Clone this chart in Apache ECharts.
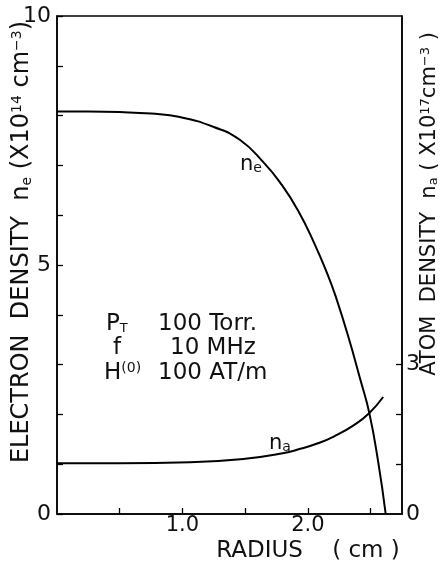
<!DOCTYPE html>
<html>
<head>
<meta charset="utf-8">
<script src="https://cdn.jsdelivr.net/npm/echarts@6/dist/echarts.min.js"></script>
<style>
html,body{margin:0;padding:0;background:#fff;}
#chart{width:445px;height:565px;}
</style>
</head>
<body>
<div id="chart"></div>
<script>
// Data
const radiusNe = [0, 0.25, 0.5, 0.75, 0.98, 1.25, 1.46, 1.65, 1.78, 1.92, 2.05, 2.16, 2.22, 2.32, 2.42, 2.49, 2.56, 2.62];
const electronDensity = [8.08, 8.08, 8.07, 8.04, 7.97, 7.77, 7.51, 7.05, 6.65, 6.10, 5.44, 4.79, 4.38, 3.58, 2.68, 2.02, 1.05, 0];
const radiusNa = [0, 0.5, 1.06, 1.5, 1.8, 1.94, 2.08, 2.21, 2.37, 2.49, 2.6];
const atomDensity = [1.02, 1.02, 1.04, 1.11, 1.22, 1.31, 1.42, 1.56, 1.79, 2.03, 2.35];
const xTickValues = [0.5, 1.0, 1.5, 2.0, 2.5];
const xLabelValues = [1.0, 2.0];
const leftLabelValues = [0, 5, 10];
const rightTickValues = [1, 2, 3];
const rightLabelValues = [0, 3];

const FONT = 'DejaVu Sans';
const chart = echarts.init(document.getElementById('chart'));
const neData = radiusNe.map((r, i) => [r, electronDensity[i]]);
const naData = radiusNa.map((r, i) => [r, atomDensity[i]]);

const axisLine = {show: true, lineStyle: {color: '#000', width: 1.5}};
const tick = {show: true, inside: true, length: 6, lineStyle: {color: '#000', width: 1.3}};

chart.setOption({
  animation: false,
  backgroundColor: '#fff',
  grid: {left: 57, right: 43, top: 16, bottom: 51, show: true, borderColor: '#000', borderWidth: 1.5, containLabel: false},
  xAxis: {
    type: 'value', min: 0, max: 2.75, interval: 0.5,
    axisLine: axisLine,
    axisTick: Object.assign({}, tick, {customValues: xTickValues}),
    axisLabel: {customValues: xLabelValues, formatter: v => v.toFixed(1), color: '#111', fontFamily: FONT, fontSize: 21, margin: 1},
    splitLine: {show: false}
  },
  yAxis: [{
    type: 'value', min: 0, max: 10, interval: 1, position: 'left',
    axisLine: axisLine, axisTick: tick,
    axisLabel: {customValues: leftLabelValues, color: '#111', fontFamily: FONT, fontSize: 22, margin: 6},
    splitLine: {show: false}
  }, {
    type: 'value', min: 0, max: 10, interval: 1, position: 'right',
    axisLine: axisLine,
    axisTick: Object.assign({}, tick, {customValues: rightTickValues}),
    axisLabel: {customValues: rightLabelValues, color: '#111', fontFamily: FONT, fontSize: 22, margin: 4},
    splitLine: {show: false}
  }],
  series: [{
    type: 'line', data: neData, yAxisIndex: 0, smooth: 0.5, showSymbol: false,
    lineStyle: {color: '#000', width: 2}
  }, {
    type: 'line', data: naData, yAxisIndex: 1, smooth: 0.5, showSymbol: false,
    lineStyle: {color: '#000', width: 2}
  }],
  graphic: [
    {type: 'text', x: 22, y: 242, rotation: Math.PI / 2, style: {
      text: 'ELECTRON  DENSITY  {b|n}{s|e} (X10{p|14} cm{p|−3})',
      font: '24px ' + FONT, fill: '#111', align: 'center', verticalAlign: 'middle',
      rich: {b: {fontSize: 24, fontFamily: FONT, fill: '#111'}, s: {fontSize: 14, fontFamily: FONT, verticalAlign: 'bottom'}, p: {fontSize: 14, fontFamily: FONT, verticalAlign: 'top'}}
    }},
    {type: 'text', x: 430, y: 204, rotation: Math.PI / 2, style: {
      text: 'ATOM  DENSITY  {b|n}{s|a} ( X10{p|17}cm{p|−3} )',
      font: '21px ' + FONT, fill: '#111', align: 'center', verticalAlign: 'middle',
      rich: {b: {fontSize: 21, fontFamily: FONT}, s: {fontSize: 13, fontFamily: FONT, verticalAlign: 'bottom'}, p: {fontSize: 13, fontFamily: FONT, verticalAlign: 'top'}}
    }},
    {type: 'text', x: 308, y: 551, style: {
      text: 'RADIUS    ( cm )', font: '23px ' + FONT, fill: '#111', align: 'center', verticalAlign: 'middle'
    }},
    {type: 'text', x: 240, y: 165, style: {
      text: '{b|n}{s|e}', fill: '#111', align: 'left', verticalAlign: 'middle',
      rich: {b: {fontSize: 21, fontFamily: FONT}, s: {fontSize: 14, fontFamily: FONT, verticalAlign: 'bottom'}}
    }},
    {type: 'text', x: 269, y: 444, style: {
      text: '{b|n}{s|a}', fill: '#111', align: 'left', verticalAlign: 'middle',
      rich: {b: {fontSize: 21, fontFamily: FONT}, s: {fontSize: 14, fontFamily: FONT, verticalAlign: 'bottom'}}
    }},
    {type: 'text', x: 106, y: 324, style: {
      text: '{b|P}{s|T}', fill: '#111', align: 'left', verticalAlign: 'middle',
      rich: {b: {fontSize: 23, fontFamily: FONT}, s: {fontSize: 13, fontFamily: FONT, verticalAlign: 'bottom'}}
    }},
    {type: 'text', x: 158, y: 324, style: {text: '100 Torr.', font: '23px ' + FONT, fill: '#111', align: 'left', verticalAlign: 'middle'}},
    {type: 'text', x: 113, y: 348, style: {text: 'f', font: '23px ' + FONT, fill: '#111', align: 'left', verticalAlign: 'middle'}},
    {type: 'text', x: 170, y: 348, style: {text: '10 MHz', font: '23px ' + FONT, fill: '#111', align: 'left', verticalAlign: 'middle'}},
    {type: 'text', x: 104, y: 373, style: {
      text: '{b|H}{p|(0)}', fill: '#111', align: 'left', verticalAlign: 'middle',
      rich: {b: {fontSize: 23, fontFamily: FONT}, p: {fontSize: 14, fontFamily: FONT, verticalAlign: 'top'}}
    }},
    {type: 'text', x: 158, y: 373, style: {text: '100 AT/m', font: '23px ' + FONT, fill: '#111', align: 'left', verticalAlign: 'middle'}}
  ]
});
</script>
</body>
</html>
